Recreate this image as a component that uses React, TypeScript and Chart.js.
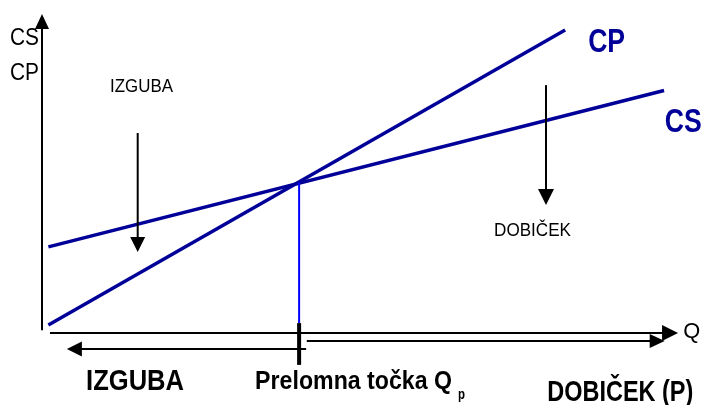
import React, { useEffect, useRef } from "react";
import { Chart, registerables } from "chart.js";

Chart.register(...registerables);

// ---- Data (Q on x axis 0..100, costs on y axis 0..100) ----
const cpLine = [
  { x: 1, y: 2.5 },
  { x: 82, y: 95 },
];
const csLine = [
  { x: 1, y: 27 },
  { x: 97.5, y: 76 },
];
const breakEvenQ = 40.3;
const breakEvenCost = 47.2;
const breakEvenDrop = [
  { x: breakEvenQ, y: breakEvenCost },
  { x: breakEvenQ, y: 3.1 },
];

// arrows: [x1, y1, x2, y2] (head at second point)
const yAxisArrow = [0, 0.9, 0, 100];
const xAxisArrow = [1.25, 0, 99.7, 0];
const profitArrow = [41.5, -2.5, 97.6, -2.5];
const lossArrow = [41.4, -5.0, 3.9, -5.0];
const lossDownArrow = [15, 62.7, 15, 25.4];
const profitDownArrow = [79, 77.7, 79, 40.1];
const breakEvenTick = [breakEvenQ, 3.1, breakEvenQ, -10];

// labels
const labelTexts = [
  "CS",
  "CP",
  "IZGUBA",
  "DOBIČEK",
  "CP",
  "CS",
  "IZGUBA",
  "Prelomna točka Q",
  "p",
  "DOBIČEK (P)",
  "Q",
];
const labelX = [-5.02, -5.02, 10.66, 70.85, 85.6, 97.6, 6.9, 33.4, 65.2, 79.2, 100.5];
const labelY = [90.3, 79.3, 75.5, 30.4, 88.1, 63.0, -17.9, -17.6, -20.7, -21.3, -1.6];

// label styles: [fontSize, bold, width(px), color]
const labelStyles: [number, boolean, number, string][] = [
  [24, false, 29, "#000"],
  [24, false, 29, "#000"],
  [19, false, 63, "#000"],
  [19, false, 77, "#000"],
  [33, true, 37, "#000099"],
  [34, true, 37, "#000099"],
  [30, true, 98, "#000"],
  [26, true, 197, "#000"],
  [14, true, 7, "#000"],
  [30, true, 146, "#000"],
  [22, false, 17, "#000"],
];

const FONT = '"Liberation Sans", Arial, sans-serif';

function drawArrow(
  ctx: CanvasRenderingContext2D,
  xs: any,
  ys: any,
  a: number[],
  lw: number,
  head: boolean,
  headLen = 15,
  headHalf = 7.5
) {
  const x1 = xs.getPixelForValue(a[0]);
  const y1 = ys.getPixelForValue(a[1]);
  const x2 = xs.getPixelForValue(a[2]);
  const y2 = ys.getPixelForValue(a[3]);
  const ang = Math.atan2(y2 - y1, x2 - x1);
  ctx.save();
  ctx.strokeStyle = "#000";
  ctx.fillStyle = "#000";
  ctx.lineWidth = lw;
  ctx.beginPath();
  ctx.moveTo(x1, y1);
  const ex = head ? x2 - Math.cos(ang) * headLen * 0.8 : x2;
  const ey = head ? y2 - Math.sin(ang) * headLen * 0.8 : y2;
  ctx.lineTo(ex, ey);
  ctx.stroke();
  if (head) {
    const bx = x2 - Math.cos(ang) * headLen;
    const by = y2 - Math.sin(ang) * headLen;
    const nx = -Math.sin(ang);
    const ny = Math.cos(ang);
    ctx.beginPath();
    ctx.moveTo(x2, y2);
    ctx.lineTo(bx + nx * headHalf, by + ny * headHalf);
    ctx.lineTo(bx - nx * headHalf, by - ny * headHalf);
    ctx.closePath();
    ctx.fill();
  }
  ctx.restore();
}

const diagramPlugin = {
  id: "diagram",
  afterDatasetsDraw(chart: any) {
    const ctx: CanvasRenderingContext2D = chart.ctx;
    const xs = chart.scales.x;
    const ys = chart.scales.y;
    drawArrow(ctx, xs, ys, yAxisArrow, 2, true, 15, 7);
    drawArrow(ctx, xs, ys, xAxisArrow, 2, true, 16, 8);
    drawArrow(ctx, xs, ys, profitArrow, 2, true, 15, 7);
    drawArrow(ctx, xs, ys, lossArrow, 2, true, 15, 7.5);
    drawArrow(ctx, xs, ys, lossDownArrow, 2, true, 15, 7.5);
    drawArrow(ctx, xs, ys, profitDownArrow, 2, true, 16, 8);
    drawArrow(ctx, xs, ys, breakEvenTick, 4, false);

    labelTexts.forEach((t, i) => {
      const [size, bold, width, color] = labelStyles[i];
      const px = xs.getPixelForValue(labelX[i]);
      const py = ys.getPixelForValue(labelY[i]);
      ctx.save();
      ctx.font = `${bold ? "bold " : ""}${size}px ${FONT}`;
      const m = ctx.measureText(t).width;
      const sx = width / m;
      ctx.translate(px, py);
      ctx.scale(sx, 1);
      ctx.fillStyle = color;
      ctx.textAlign = "left";
      ctx.textBaseline = "alphabetic";
      ctx.fillText(t, 0, 0);
      ctx.restore();
    });
  },
};

export default function App() {
  const ref = useRef<HTMLCanvasElement | null>(null);
  useEffect(() => {
    if (!ref.current) return;
    const chart = new Chart(ref.current, {
      type: "scatter",
      data: {
        datasets: [
          {
            data: breakEvenDrop,
            showLine: true,
            borderColor: "#0000ff",
            borderWidth: 2,
            pointRadius: 0,
          },
          {
            data: cpLine,
            showLine: true,
            borderColor: "#000099",
            borderWidth: 3.5,
            pointRadius: 0,
          },
          {
            data: csLine,
            showLine: true,
            borderColor: "#000099",
            borderWidth: 3.5,
            pointRadius: 0,
          },
        ],
      },
      options: {
        animation: false,
        responsive: false,
        events: [],
        clip: false as any,
        layout: { padding: { left: 42, right: 23, top: 14, bottom: 72 } },
        scales: {
          x: { type: "linear", min: 0, max: 100, display: false },
          y: { type: "linear", min: 0, max: 100, display: false },
        },
        plugins: {
          legend: { display: false },
          tooltip: { enabled: false },
          title: { display: false },
        },
      },
      plugins: [diagramPlugin],
    });
    return () => chart.destroy();
  }, []);
  return (
    <div style={{ position: "absolute", left: 0, top: 0, width: 703, height: 405, background: "#fff" }}>
      <canvas ref={ref} width={703} height={405} />
    </div>
  );
}
